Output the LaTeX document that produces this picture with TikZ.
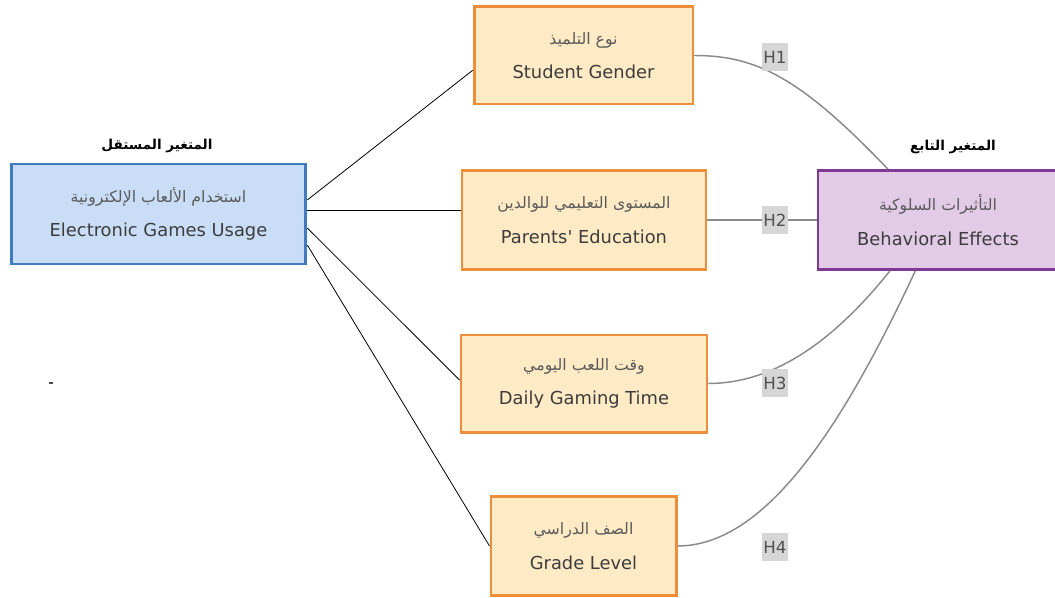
\documentclass[tikz,border=0pt]{standalone}
\usepackage{fontspec}
\setmainfont{DejaVu Sans}
\newfontfamily\nomap{DejaVu Sans}
\newfontfamily\ar[Script=Arabic]{DejaVu Sans}
\TeXXeTstate=1
\definecolor{bfill}{HTML}{C9DEF6}
\definecolor{bdraw}{HTML}{3E7CBF}
\definecolor{ofill}{HTML}{FFEAC6}
\definecolor{odraw}{HTML}{EE8E3B}
\definecolor{pfill}{HTML}{E2CBE7}
\definecolor{pdraw}{HTML}{7E3B96}
\definecolor{txt}{HTML}{3C3C3C}
\definecolor{artxt}{HTML}{5A5A5A}
\definecolor{curve}{HTML}{8A8A8A}
\definecolor{hfill}{HTML}{D6D6D6}
\definecolor{htxt}{HTML}{505050}
\tikzset{
  box/.style={draw, line width=2.2pt, inner sep=0pt, align=center, text=txt,
    font=\fontsize{13.4}{26}\selectfont},
  bluebox/.style={box, fill=bfill, draw=bdraw},
  orbox/.style={box, fill=ofill, draw=odraw, line width=2pt},
  purbox/.style={box, fill=pfill, draw=pdraw},
  heading/.style={inner sep=0pt, text=black, font=\ar\bfseries\fontsize{10.2}{12}\selectfont},
  blk/.style={draw=black, line width=0.6pt},
  gcurve/.style={draw=curve, line width=1.1pt},
  hlab/.style={fill=hfill, text=htxt, inner sep=1.3pt, minimum height=21pt, minimum width=17.5pt,
    font=\fontsize{12.5}{14}\selectfont}
}
\newcommand{\arl}[1]{{\ar\color{artxt}\fontsize{11.8}{26}\selectfont\beginR #1\endR}}
\begin{document}
\begin{tikzpicture}[x=0.75pt,y=-0.75pt]
\useasboundingbox (0,0) rectangle (1055,598);
% boxes
\node[bluebox, minimum width=221pt, minimum height=75pt] (egu) at (158.5,214)
  {\arl{استخدام الألعاب الإلكترونية}\\Electronic Games Usage};
\node[orbox, minimum width=164pt, minimum height=73pt] (sg) at (583.5,55.5)
  {\arl{نوع التلميذ}\\Student Gender};
\node[orbox, minimum width=183pt, minimum height=74pt] (pe) at (584,220)
  {\arl{المستوى التعليمي للوالدين}\\Parents{\nomap\char"27} Education};
\node[orbox, minimum width=184.5pt, minimum height=73pt] (dgt) at (584,383.5)
  {\arl{وقت اللعب اليومي}\\Daily Gaming Time};
\node[orbox, minimum width=139pt, minimum height=74pt] (gl) at (583.5,546)
  {\arl{الصف الدراسي}\\Grade Level};
\node[purbox, minimum width=180pt, minimum height=74pt] (be) at (938,220)
  {\arl{التأثيرات السلوكية}\\Behavioral Effects};
% headings
\node[heading] (hl) at (157,146) {\beginR المتغير المستقل\endR};
\node[heading] (hr) at (953,147) {\beginR المتغير التابع\endR};
% left connectors
\draw[blk] ([yshift=10.5pt]egu.east) -- ([yshift=-11pt]sg.west);
\draw[blk] ([yshift=3pt]egu.east) -- ([yshift=7.5pt]pe.west);
\draw[blk] ([yshift=-10.5pt]egu.east) -- ([yshift=2.5pt]dgt.west);
\draw[blk] ([yshift=-23.25pt]egu.east) -- (gl.west);
% right curves
\draw[gcurve] (sg.east) .. controls +(62,0) and +(-88,-92) .. ([xshift=-37.5pt]be.north);
\draw[gcurve] (pe.east) -- (be.west);
\draw[gcurve] (dgt.east) .. controls +(62,0) and +(-60,75) .. ([xshift=-36pt]be.south);
\draw[gcurve] (gl.east) .. controls +(90,0) and +(-70,150) .. ([xshift=-17pt]be.south);
% hypothesis labels
\node[hlab] (h1) at (775,57) {H1};
\node[hlab] (h2) at (775,220) {H2};
\node[hlab] (h3) at (775,383) {H3};
\node[hlab] (h4) at (775,547) {H4};
% stray mark
\fill[black!70] (49,381.5) rectangle (53,383.5);
\end{tikzpicture}
\end{document}
